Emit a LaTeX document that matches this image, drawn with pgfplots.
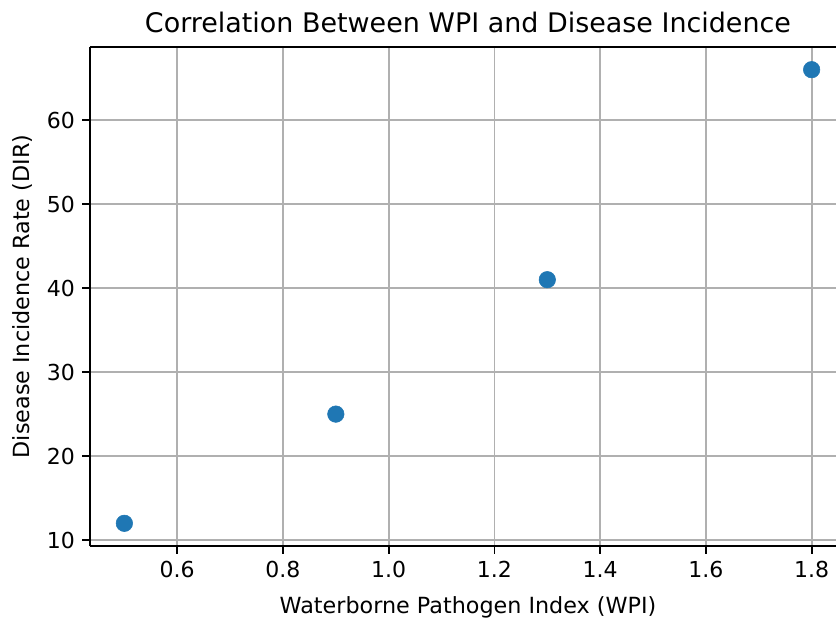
\documentclass[border=0pt]{standalone}
\usepackage{fontspec}
\setmainfont{DejaVu Sans}
\usepackage{pgfplots}
\pgfplotsset{compat=1.18}
\definecolor{mplblue}{HTML}{1F77B4}
\definecolor{gridgray}{HTML}{B0B0B0}
\begin{document}
\begin{tikzpicture}
\begin{axis}[
  at={(0,0)}, anchor=south west,
  scale only axis,
  width=567pt, height=374.25pt,
  xmin=0.435, xmax=1.865,
  ymin=9.3, ymax=68.7,
  xtick={0.6,0.8,1.0,1.2,1.4,1.6,1.8},
  xticklabels={0.6,0.8,1.0,1.2,1.4,1.6,1.8},
  ytick={10,20,30,40,50,60},
  /pgf/number format/assume math mode=true,
  ticklabel style={font=\fontsize{16.5}{19.8}\selectfont},
  label style={font=\fontsize{16.7}{20}\selectfont},
  title style={font=\fontsize{20.2}{24.2}\selectfont, yshift=1pt},
  title={Correlation Between WPI and Disease Incidence},
  xlabel={Waterborne Pathogen Index (WPI)},
  ylabel={Disease Incidence Rate (DIR)},
  grid=major,
  major grid style={gridgray, line width=1.32pt},
  axis line style={black, line width=1.32pt},
  tick style={black, line width=1.32pt},
  tick align=outside,
  major tick length=5.8pt,
  xtick pos=bottom, ytick pos=left,
  axis x line*=bottom, axis y line*=left,
  x axis line style={-}, y axis line style={-},
  xticklabel style={yshift=-2pt},
  yticklabel style={xshift=-2pt},
  xlabel style={yshift=-7pt},
  ylabel style={yshift=4pt},
]
\addplot[only marks, mark=*, mark size=6.2pt, mark options={draw=mplblue, fill=mplblue}] coordinates {
  (0.5,12) (0.9,25) (1.3,41) (1.8,66)
};
\draw[black, line width=1.32pt] (rel axis cs:0,1) -- (rel axis cs:1,1);
\end{axis}
\pgfresetboundingbox
\path (-67.5pt,-54.75pt) rectangle (559.5pt,409.5pt);
\end{tikzpicture}
\end{document}
